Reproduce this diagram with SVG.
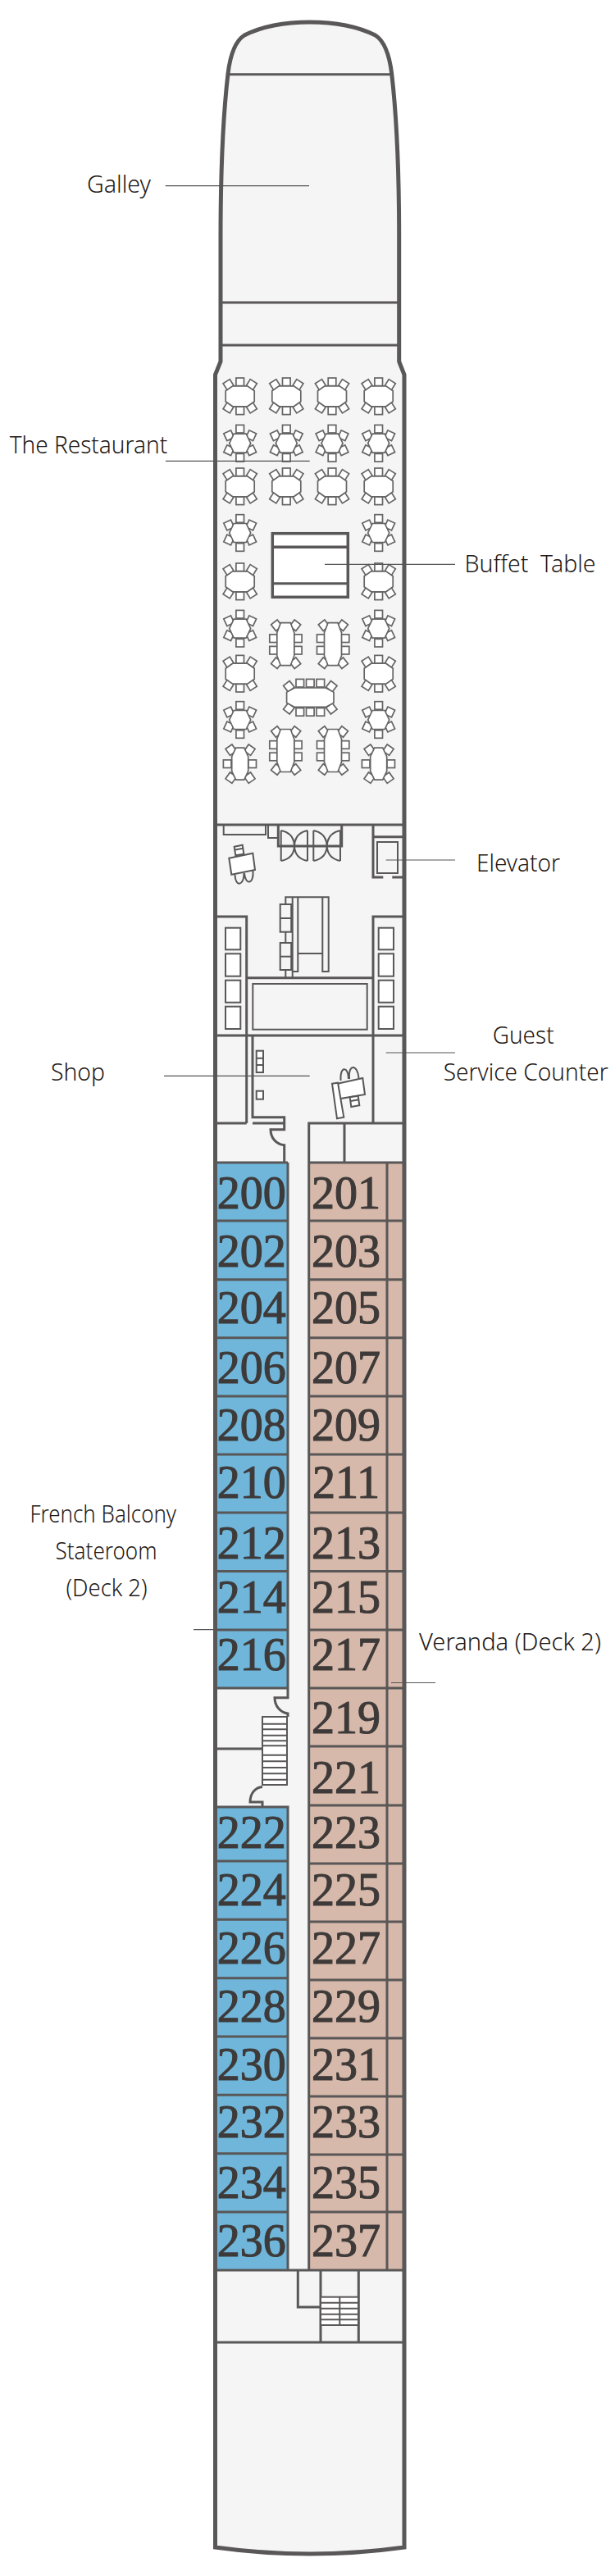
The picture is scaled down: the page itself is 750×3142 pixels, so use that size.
<svg xmlns="http://www.w3.org/2000/svg" xmlns:xlink="http://www.w3.org/1999/xlink" width="750" height="3142" viewBox="0 0 750 3142">
<style>
.w{fill:none;stroke:#595757;stroke-width:3}
.t{fill:none;stroke:#595757;stroke-width:2}
.f{fill:#fff;stroke:#666464;stroke-width:1.7}
.b{fill:#f5f5f5;stroke:#595757;stroke-width:2}
.lead{fill:none;stroke:#555;stroke-width:1.2}
.lab{font-family:"Noto Sans","Liberation Sans",sans-serif;font-size:28.5px;font-weight:300;fill:#231815}
.num{font-family:"Liberation Serif",serif;font-size:56px;fill:#3e3a39;stroke:#3e3a39;stroke-width:1.1;text-anchor:middle}
.bl{fill:#6fb6da}.ta{fill:#d6b9aa}
</style>
<defs>
<rect id="c" class="f" x="-4.8" y="-4.8" width="9.6" height="9.6"/>
<g id="oval">
<use xlink:href="#c" x="0" y="-17.5"/><use xlink:href="#c" x="0" y="17.5"/>
<use xlink:href="#c" transform="translate(-14,-14) rotate(-32)"/><use xlink:href="#c" transform="translate(14,-14) rotate(32)"/>
<use xlink:href="#c" transform="translate(-14,14) rotate(32)"/><use xlink:href="#c" transform="translate(14,14) rotate(-32)"/>
<polygon class="f" points="-9,-12.5 9,-12.5 17.5,-6.5 17.5,6.5 9,12.5 -9,12.5 -17.5,6.5 -17.5,-6.5"/>
</g>
<g id="hex">
<use xlink:href="#c" x="0" y="-17.5"/><use xlink:href="#c" x="0" y="17.5"/>
<use xlink:href="#c" transform="translate(-13.5,-9.5) rotate(-25)"/><use xlink:href="#c" transform="translate(13.5,-9.5) rotate(25)"/>
<use xlink:href="#c" transform="translate(-13.5,8.5) rotate(25)"/><use xlink:href="#c" transform="translate(13.5,8.5) rotate(-25)"/>
<polygon class="f" points="-7.5,-11.5 7.5,-11.5 13,0 7.5,11.5 -7.5,11.5 -13,0"/>
</g>
<g id="long">
<use xlink:href="#c" x="-14.7" y="-7"/><use xlink:href="#c" x="-14.7" y="7.5"/><use xlink:href="#c" x="15" y="-7"/><use xlink:href="#c" x="15" y="7.5"/>
<use xlink:href="#c" transform="translate(-11,-23) rotate(-38)"/><use xlink:href="#c" transform="translate(11.7,-23) rotate(38)"/>
<use xlink:href="#c" transform="translate(-11,23) rotate(38)"/><use xlink:href="#c" transform="translate(11.7,23) rotate(-38)"/>
<polygon class="f" points="-6,-26 6,-26 10.5,-14 10.5,14 6,26 -6,26 -10.5,14 -10.5,-14"/>
</g>
<g id="four">
<use xlink:href="#c" x="-15.5" y="0"/><use xlink:href="#c" x="15" y="0"/>
<use xlink:href="#c" transform="translate(-11,-17) rotate(-35)"/><use xlink:href="#c" transform="translate(11.7,-17) rotate(35)"/>
<use xlink:href="#c" transform="translate(-11,17) rotate(35)"/><use xlink:href="#c" transform="translate(11.7,17) rotate(-35)"/>
<polygon class="f" points="-5,-19.5 5,-19.5 10,-9 10,9 5,19.5 -5,19.5 -10,9 -10,-9"/>
</g>
<g id="wide">
<use xlink:href="#c" x="-12.5" y="-17.5"/><use xlink:href="#c" x="0" y="-17.5"/><use xlink:href="#c" x="12.5" y="-17.5"/>
<use xlink:href="#c" x="-12.5" y="17.7"/><use xlink:href="#c" x="0" y="17.7"/><use xlink:href="#c" x="12.5" y="17.7"/>
<use xlink:href="#c" transform="translate(-26,-13.5) rotate(-38)"/><use xlink:href="#c" transform="translate(26,-13.5) rotate(38)"/>
<use xlink:href="#c" transform="translate(-26,13.5) rotate(38)"/><use xlink:href="#c" transform="translate(26,13.5) rotate(-38)"/>
<polygon class="f" points="-19,-11.7 19,-11.7 28.7,-6.5 28.7,6.5 19,11.7 -19,11.7 -28.7,6.5 -28.7,-6.5"/>
</g>
</defs>

<path id="hull-fill" fill="#f5f5f5" d="M262.5,3107 L262.5,457 L269,441 L269,290 C269,220 271,150 278,90 C281,65 287,50 298,43 C320,32 350,27 377.8,27 C405.5,27 435.5,32 457.7,43 C468.7,50 474.7,65 477.7,90 C484.7,150 486.7,220 486.7,290 L486.7,441 L493,457 L493,3107 Q377.8,3123 262.5,3107 Z"/>
<rect x="351" y="1370" width="26" height="1400" fill="#f5f5f5"/>

<g id="cabin-fills">
<rect class="bl" x="263" y="1418" width="88" height="641"/>
<rect class="bl" x="263" y="2204" width="88" height="565"/>
<rect class="ta" x="377" y="1418" width="116" height="1351"/>
</g>

<g id="tables">
<use xlink:href="#oval" x="292.7" y="483.3"/><use xlink:href="#oval" x="349.3" y="483.3"/><use xlink:href="#oval" x="405" y="483.3"/><use xlink:href="#oval" x="461.7" y="483.3"/>
<use xlink:href="#hex" x="292.7" y="540.7"/><use xlink:href="#hex" x="349.3" y="540.7"/><use xlink:href="#hex" x="405" y="540.7"/><use xlink:href="#hex" x="461.7" y="540.7"/>
<use xlink:href="#oval" x="292.7" y="593.3"/><use xlink:href="#oval" x="349.3" y="593.3"/><use xlink:href="#oval" x="405" y="593.3"/><use xlink:href="#oval" x="461.7" y="593.3"/>
<use xlink:href="#hex" x="292.7" y="650"/><use xlink:href="#hex" x="461.7" y="650"/>
<use xlink:href="#oval" x="292.7" y="709.3"/><use xlink:href="#oval" x="461.7" y="709.3"/>
<use xlink:href="#hex" x="292.7" y="766.7"/><use xlink:href="#hex" x="461.7" y="766.7"/>
<use xlink:href="#oval" x="292.7" y="821.7"/><use xlink:href="#oval" x="461.7" y="821.7"/>
<use xlink:href="#hex" x="292.7" y="878"/><use xlink:href="#hex" x="461.7" y="878"/>
<use xlink:href="#four" x="292.7" y="931.7"/><use xlink:href="#four" x="461.7" y="931.7"/>
<use xlink:href="#long" x="348.3" y="785.7"/><use xlink:href="#long" x="406" y="785.7"/>
<use xlink:href="#long" x="348.3" y="915.5"/><use xlink:href="#long" x="406" y="915.5"/>
<use xlink:href="#wide" x="378.3" y="850.7"/>
</g>

<g id="buffet-table">
<rect x="332.3" y="650.7" width="92" height="77.6" fill="#fff" stroke="#595757" stroke-width="3.5"/>
<path d="M332.3,667.3H424.3" class="w" style="stroke-width:3.5"/>
<path d="M332.3,711.7H424.3" class="w"/>
</g>

<g id="walls-forward" class="w">
<path d="M278,90.7H477.7"/>
<path d="M269,369H486.7"/>
<path d="M269,421H486.7"/>
<path d="M262.5,1006H493"/>
<path d="M262.5,1263H493"/>
<path d="M262.5,1118H300.7V1263M455,1263V1118H493"/>
<path d="M300.7,1192.7H455"/>
<path d="M455,1006V1070H467.3M478.3,1070H493M455,1020.7H493"/>
<path d="M339.3,1006V1032H416.7V1006"/>
</g>
<g id="lobby" class="t">
<path d="M272.7,1006V1018H324V1006M327,1006V1022H338"/>
<path d="M342.7,1013V1050M375,1013V1050M382.3,1013V1050M415,1013V1050"/>
<path d="M342.7,1013Q358.5,1016 359,1032Q358.5,1047 342.7,1050M375,1013Q359.5,1016 359,1032Q359.5,1047 375,1050"/>
<path d="M382.3,1013Q398,1016 398.7,1032Q398,1047 382.3,1050M415,1013Q399.5,1016 398.7,1032Q399.5,1047 415,1050"/>
<rect x="460" y="1027" width="25" height="38"/>
<rect x="308.3" y="1200" width="139.4" height="55.7"/>
<rect x="275" y="1131.7" width="18.3" height="26.6" fill="#fff"/><rect x="275" y="1163.3" width="18.3" height="27.4" fill="#fff"/><rect x="275" y="1195.7" width="18.3" height="27" fill="#fff"/><rect x="275" y="1227.7" width="18.3" height="27.3" fill="#fff"/>
<rect x="461.7" y="1131.7" width="18.3" height="26.6" fill="#fff"/><rect x="461.7" y="1163.3" width="18.3" height="27.4" fill="#fff"/><rect x="461.7" y="1195.7" width="18.3" height="27" fill="#fff"/><rect x="461.7" y="1227.7" width="18.3" height="27.3" fill="#fff"/>
<path d="M348.3,1192V1094.3H400.7V1185H393.3V1094.3M356.7,1094.3V1192M357.3,1185H363.3V1094.3M363.3,1163H393.3"/>
<rect x="341.7" y="1103" width="13.5" height="33.7" fill="#f5f5f5"/><path d="M341.7,1120H355.2"/>
<rect x="341.7" y="1150" width="13.5" height="33" fill="#f5f5f5"/><path d="M341.7,1166.7H355.2"/>
<polygon points="279.3,1046.7 308.3,1040.7 311,1061 282.3,1066.7" fill="#fff"/>
<polygon points="285.7,1032.7 295.7,1030.7 297.3,1041.7 287.3,1043.3" fill="#fff"/>
<path d="M287,1036.5L296.3,1034.7"/>
<path d="M286.5,1067C287,1083 298,1080 297.5,1065M298,1065C299,1080 310,1079 308.5,1062"/>
</g>

<g id="shop-area" class="w">
<path d="M300.7,1263V1370M308,1263V1362.7H346.7V1377.7H330C330,1388 337,1396 346.7,1396.7V1418"/>
<path d="M262.5,1370H300.7M308,1370H346.7"/>
<path d="M493,1370H376.7V2769"/>
<path d="M420,1370V1418M455,1263V1370"/>
</g>
<g id="shop-furniture" class="t">
<rect x="312.7" y="1281.7" width="8.3" height="26.3" fill="#fff"/><path d="M312.7,1290.7H321M312.7,1299H321"/>
<rect x="312.7" y="1330.7" width="8.3" height="10" fill="#fff"/>
<polygon points="411.7,1321.7 442.3,1315 445,1335 415,1340" fill="#fff"/>
<polygon points="405,1321.7 412,1320.7 419.3,1362.7 411,1364.3" fill="#fff"/>
<polygon points="426.7,1338.3 436.7,1336.7 438.3,1348.3 428.3,1350" fill="#fff"/>
<path d="M427.5,1343L437.5,1341.3"/>
<path d="M415.5,1318C414,1300 425,1300 425,1316M426,1316C424,1298 436,1297 437.5,1315"/>
</g>

<g id="cabin-walls" class="w">
<path d="M262.5,1418H351M376.7,1418H493"/>
<path d="M351,1418V2070.7H335C335,2081 342,2089 351,2090V2094"/>
<path d="M320,2204V2198H305C305,2188 311,2180 320,2179.5"/>
<path d="M262.5,2204H351V2769"/>
<path d="M262.5,2133H320"/>
<path d="M472,1418V2769"/>
<path d="M262.5,1489H351M262.5,1560.7H351M262.5,1631.7H351M262.5,1703H351M262.5,1774H351M262.5,1845H351M262.5,1916.5H351M262.5,1988H351M262.5,2059H351"/>
<path d="M262.5,2270H351M262.5,2341.3H351M262.5,2412.7H351M262.5,2484H351M262.5,2555.3H351M262.5,2626.7H351M262.5,2698H351"/>
<path d="M376.7,1489H493M376.7,1560.7H493M376.7,1631.7H493M376.7,1703H493M376.7,1774H493M376.7,1845H493M376.7,1916.5H493M376.7,1988H493M376.7,2059H493M376.7,2130H493M376.7,2202H493M376.7,2273H493M376.7,2344H493M376.7,2415H493M376.7,2486H493M376.7,2557H493M376.7,2628H493M376.7,2698H493"/>
<path d="M262.5,2769H493M262.5,2857H493"/>
<path d="M363.3,2769V2814H391M391,2769V2857M437.3,2769V2857"/>
</g>
<g id="stairs" class="t">
<rect x="320" y="2094" width="30" height="83" fill="#fff"/>
<path d="M320,2102.7H350M320,2109.3H350M320,2116.7H350M320,2123.3H350M320,2129.3H350M320,2140.7H350M320,2148.3H350M320,2156H350M320,2163.3H350M320,2170.7H350"/>
<rect x="391" y="2801.7" width="46" height="34.3" fill="#fff"/>
<path d="M391,2808.7H437M391,2815.7H437M391,2822.7H437M391,2829.3H437M414.3,2801.7V2836"/>
</g>

<path id="hull" fill="none" stroke="#595757" stroke-width="5" d="M262.5,3107 L262.5,457 L269,441 L269,290 C269,220 271,150 278,90 C281,65 287,50 298,43 C320,32 350,27 377.8,27 C405.5,27 435.5,32 457.7,43 C468.7,50 474.7,65 477.7,90 C484.7,150 486.7,220 486.7,290 L486.7,441 L493,457 L493,3107 Q377.8,3123 262.5,3107 Z"/>

<g id="connectors" class="lead">
<path d="M201.7,226.7H377"/>
<path d="M202,562.3H377.7"/>
<path d="M396,688.3H555"/>
<path d="M470.7,1049H555"/>
<path d="M470.7,1284H555"/>
<path d="M200,1312.3H377.7"/>
<path d="M236,1987.7H284"/>
<path d="M477,2052.5H531"/>
</g>

<g id="cabins-port">
<text class="num" x="306.7" y="1474">200</text>
<text class="num" x="306.7" y="1545">202</text>
<text class="num" x="306.7" y="1614">204</text>
<text class="num" x="306.7" y="1687">206</text>
<text class="num" x="306.7" y="1757">208</text>
<text class="num" x="306.7" y="1827">210</text>
<text class="num" x="306.7" y="1901">212</text>
<text class="num" x="306.7" y="1967">214</text>
<text class="num" x="306.7" y="2037">216</text>
<text class="num" x="306.7" y="2254">222</text>
<text class="num" x="306.7" y="2324">224</text>
<text class="num" x="306.7" y="2395">226</text>
<text class="num" x="306.7" y="2466">228</text>
<text class="num" x="306.7" y="2537">230</text>
<text class="num" x="306.7" y="2607">232</text>
<text class="num" x="306.7" y="2681">234</text>
<text class="num" x="306.7" y="2752">236</text>
</g>
<g id="cabins-starboard">
<text class="num" x="422" y="1474">201</text>
<text class="num" x="422" y="1545">203</text>
<text class="num" x="422" y="1614">205</text>
<text class="num" x="422" y="1687">207</text>
<text class="num" x="422" y="1757">209</text>
<text class="num" x="422" y="1827">211</text>
<text class="num" x="422" y="1901">213</text>
<text class="num" x="422" y="1967">215</text>
<text class="num" x="422" y="2037">217</text>
<text class="num" x="422" y="2114">219</text>
<text class="num" x="422" y="2187">221</text>
<text class="num" x="422" y="2254">223</text>
<text class="num" x="422" y="2324">225</text>
<text class="num" x="422" y="2395">227</text>
<text class="num" x="422" y="2466">229</text>
<text class="num" x="422" y="2537">231</text>
<text class="num" x="422" y="2607">233</text>
<text class="num" x="422" y="2681">235</text>
<text class="num" x="422" y="2752">237</text>
</g>

<g id="labels">
<text class="lab" x="106" y="235" textLength="78" lengthAdjust="spacingAndGlyphs">Galley</text>
<text class="lab" x="11.7" y="553.3" textLength="192.5" lengthAdjust="spacingAndGlyphs">The Restaurant</text>
<text class="lab" x="566.5" y="697.7" textLength="160" lengthAdjust="spacingAndGlyphs" xml:space="preserve">Buffet  Table</text>
<text class="lab" x="581" y="1063" textLength="102" lengthAdjust="spacingAndGlyphs">Elevator</text>
<text class="lab" x="600.7" y="1273.3" textLength="75" lengthAdjust="spacingAndGlyphs">Guest</text>
<text class="lab" x="540.7" y="1318.3" textLength="201" lengthAdjust="spacingAndGlyphs">Service Counter</text>
<text class="lab" x="62" y="1318" textLength="66" lengthAdjust="spacingAndGlyphs">Shop</text>
<text class="lab" x="36.5" y="1857" textLength="178.5" lengthAdjust="spacingAndGlyphs">French Balcony</text>
<text class="lab" x="67.5" y="1902" textLength="124" lengthAdjust="spacingAndGlyphs">Stateroom</text>
<text class="lab" x="80.5" y="1947" textLength="99" lengthAdjust="spacingAndGlyphs">(Deck 2)</text>
<text class="lab" x="511" y="2013" textLength="222" lengthAdjust="spacingAndGlyphs">Veranda (Deck 2)</text>
</g>
</svg>
